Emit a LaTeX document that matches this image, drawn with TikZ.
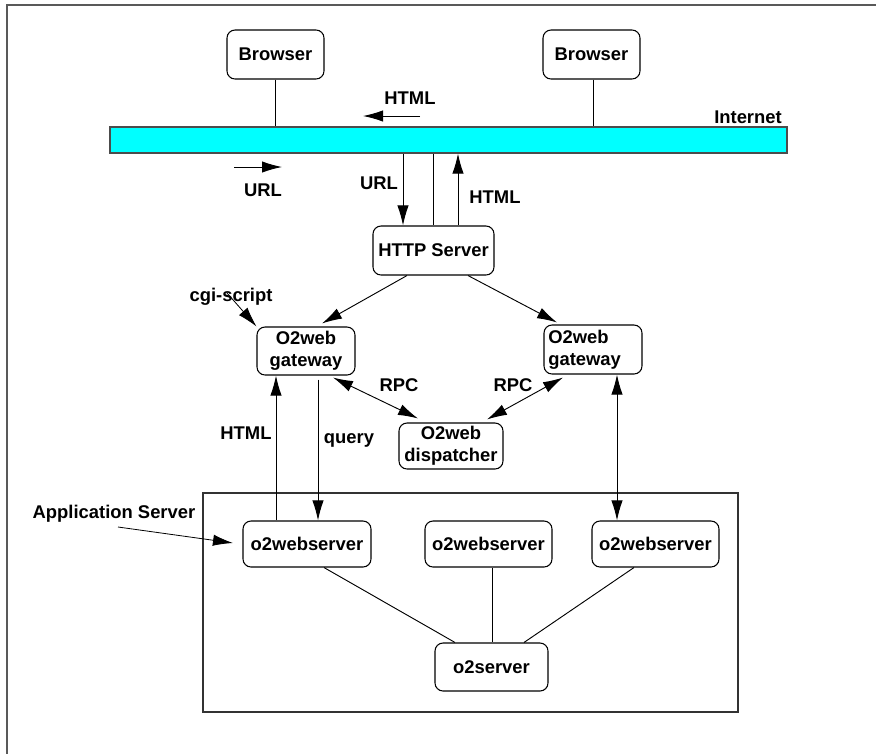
\documentclass[tikz,border=0pt]{standalone}
\usepackage{fontspec}
\setmainfont{Liberation Sans}
\usetikzlibrary{arrows.meta,calc}
\definecolor{barcyan}{RGB}{0,255,255}
\begin{document}
\begin{tikzpicture}[x=0.75pt,y=-0.75pt,
  every node/.style={font=\fontsize{13.8}{16.5}\selectfont\bfseries},
  box/.style={draw,line width=0.8pt,rounded corners=6pt,inner sep=0pt,align=center},
  lbl/.style={inner sep=0pt},
  ln/.style={line width=0.7pt},
  arr/.style={ln,-{Latex[length=15pt,width=8.5pt]}},
  darr/.style={ln,{Latex[length=15pt,width=8.5pt]}-{Latex[length=15pt,width=8.5pt]}}]
\useasboundingbox (0,0) rectangle (876,754);
% frame
\draw[black!65,line width=1.5pt] (7,754) -- (7,5) -- (876,5);
% nodes
\node[box,minimum width=72.75pt,minimum height=36.75pt] (b1) at (275.5,54.5) {Browser};
\node[box,minimum width=72.75pt,minimum height=36.75pt] (b2) at (591.5,54.5) {Browser};
\node[draw=black!70,fill=barcyan,line width=0.8pt,minimum width=507.75pt,minimum height=19.5pt,inner sep=0pt] (bar) at (448.5,140) {};
\node[box,minimum width=90.75pt,minimum height=36.75pt] (http) at (433.5,250.5) {HTTP Server};
\node[box,minimum width=73.5pt,minimum height=36pt] (gw1) at (306,351) {O2web\\gateway};
\node[box,minimum width=73.5pt,minimum height=36.75pt,align=left,text width=67pt] (gw2) at (593,349.5) {O2web\\gateway};
\node[box,minimum width=78pt,minimum height=34.5pt] (disp) at (451,446) {O2web\\dispatcher};
\node[draw=black!80,line width=0.8pt,minimum width=401.25pt,minimum height=164.25pt,inner sep=0pt] (app) at (470.5,602.5) {};
\node[box,minimum width=96pt,minimum height=34.5pt] (ws1) at (307,544) {o2webserver};
\node[box,minimum width=95.25pt,minimum height=34.5pt] (ws2) at (488.5,544) {o2webserver};
\node[box,minimum width=95.25pt,minimum height=34.5pt] (ws3) at (655.5,544) {o2webserver};
\node[box,minimum width=84.75pt,minimum height=36pt] (o2s) at (491.5,667) {o2server};
% labels
\node[lbl] (lhtmltop) at (410,98) {HTML};
\node[lbl] (linternet) at (748,117) {Internet};
\node[lbl] (lurlleft) at (263,190) {URL};
\node[lbl] (lurlmid) at (379,183) {URL};
\node[lbl] (lhtmlright) at (495,197) {HTML};
\node[lbl] (lcgi) at (231,297) {cgi-script};
\node[lbl] (lrpc1) at (399,385) {RPC};
\node[lbl] (lrpc2) at (513,385) {RPC};
\node[lbl] (lhtmlleft) at (246,433) {HTML};
\node[lbl] (lquery) at (349,440) {query};
\node[lbl] (lapp) at (114,514) {Application Server};
% helper coordinates
\coordinate (xb2) at (593,0);
\coordinate (xurl) at (403,0);
\coordinate (xmid) at (433,0);
\coordinate (xhtml) at (458,0);
\coordinate (xhl) at (276,0);
\coordinate (xq) at (318,0);
\coordinate (xr) at (617,0);
\coordinate (ht1) at (420,116);
\coordinate (ht2) at (363,116);
\coordinate (ur1) at (234,167);
\coordinate (ur2) at (282,167);
\coordinate (cgis) at (227,293);
\coordinate (apps) at (118,527);
\coordinate (appe) at (233,543);
% connectors
\draw[ln] (b1.south) -- (b1.south |- bar.north);
\draw[ln] (b2.south -| xb2) -- (bar.north -| xb2);
\draw[arr] (ht1) -- (ht2);
\draw[arr] (ur1) -- (ur2);
\draw[arr] (bar.south -| xurl) -- (http.north -| xurl);
\draw[ln] (bar.south -| xmid) -- (http.north -| xmid);
\draw[arr] (http.north -| xhtml) -- (bar.south -| xhtml);
\draw[arr] ($(http.south)+(-26.5,0)$) -- ($(gw1.north)+(16,-3)$);
\draw[arr] ($(http.south)+(34.5,0)$) -- ($(gw2.north)+(-36,-2)$);
\draw[arr,line width=0.6pt] (cgis) -- (gw1.north west);
\draw[darr] ($(gw1.south)+(27,2)$) -- ($(disp.north)+(-33,-4)$);
\draw[darr] ($(gw2.south)+(-30,3)$) -- ($(disp.north)+(36,-3)$);
\draw[arr] (ws1.north -| xhl) -- (gw1.south -| xhl);
\draw[arr] ($(gw1.south)+(12,4)$) -- (ws1.north -| xq);
\draw[darr] (gw2.south -| xr) -- (ws3.north -| xr);
\draw[arr,line width=0.6pt] (apps) -- (appe);
\draw[ln] ($(ws1.south)+(17,0)$) -- ($(o2s.north)+(-36.5,0)$);
\draw[ln] ($(ws2.south)+(3.5,0)$) -- ($(o2s.north)+(0.5,0)$);
\draw[ln] ($(ws3.south)+(-21.5,0)$) -- ($(o2s.north)+(32.5,0)$);
\end{tikzpicture}
\end{document}
